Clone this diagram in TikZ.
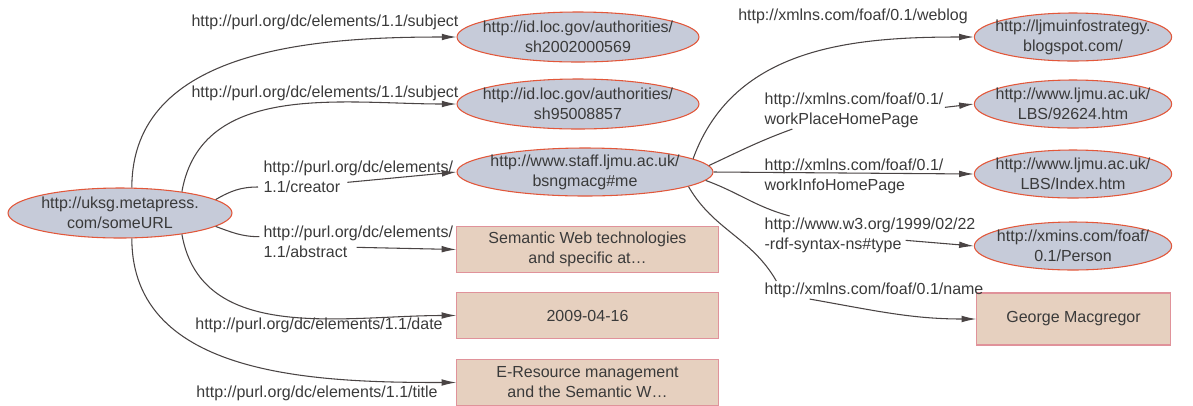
\documentclass[tikz,border=0pt]{standalone}
\usepackage{fontspec}
\setmainfont{Liberation Sans}
\usetikzlibrary{shapes.geometric,arrows.meta}
\definecolor{txt}{HTML}{3A3A3A}
\definecolor{ellfill}{HTML}{C6CBD9}
\definecolor{ellline}{HTML}{E2573A}
\definecolor{boxfill}{HTML}{E6D0BF}
\definecolor{boxline}{HTML}{E0929A}
\definecolor{edgecol}{HTML}{4A4444}
\begin{document}
\begin{tikzpicture}[x=0.75pt,y=-0.75pt,
  every node/.style={text=txt,font=\fontsize{12}{15}\selectfont},
  res/.style={ellipse,draw=ellline,fill=ellfill,line width=0.8pt,align=center,
    inner xsep=-8pt,inner ysep=-3pt,minimum width=148pt,minimum height=36pt},
  lit/.style={rectangle,draw=boxline,fill=boxfill,line width=0.8pt,align=center,
    minimum width=196pt,minimum height=34pt},
  prop/.style={align=left,inner sep=1pt},
  link/.style={draw=edgecol,line width=0.8pt},
  arr/.style={link,-{Latex[length=11pt,width=5pt]}}]
  \useasboundingbox (0,0) rectangle (1193,405);

  \node[res,minimum width=168pt,minimum height=37.5pt] (root) at (120,213)
    {http://uksg.metapress.\\com/someURL};
  \node[res,minimum width=181.5pt,minimum height=37.5pt] (subj1) at (578,37)
    {http://id.loc.gov/authorities/\\sh2002000569};
  \node[res,minimum width=181.5pt,minimum height=37.5pt] (subj2) at (578,104)
    {http://id.loc.gov/authorities/\\sh95008857};
  \node[res,minimum width=192pt] (creator) at (585,172)
    {http://www.staff.ljmu.ac.uk/\\bsngmacg\#me};
  \node[lit] (abstract) at (587.5,249.5) {Semantic Web technologies\\and specific at\dots};
  \node[lit] (date) at (587.5,315.5) {2009-04-16};
  \node[lit] (title) at (587.5,382.5) {E-Resource management\\and the Semantic W\dots};

  \node[res] (weblog) at (1073,37) {http://ljmuinfostrategy.\\blogspot.com/};
  \node[res] (workplace) at (1073,104) {http://www.ljmu.ac.uk/\\LBS/92624.htm};
  \node[res] (workinfo) at (1073,174) {http://www.ljmu.ac.uk/\\LBS/Index.htm};
  \node[res] (person) at (1073,246) {http://xmins.com/foaf/\\0.1/Person};
  \node[lit,minimum width=145pt,minimum height=39pt] (name) at (1073.5,319) {George Macgregor};

  \node[prop] (lsubj1) at (325,22) {http://purl.org/dc/elements/1.1/subject};
  \node[prop] (lsubj2) at (325,93) {http://purl.org/dc/elements/1.1/subject};
  \node[prop,anchor=west] (lcreator) at (262,177) {http://purl.org/dc/elements/\\1.1/creator};
  \node[prop,anchor=west] (labstract) at (262,242) {http://purl.org/dc/elements/\\1.1/abstract};
  \node[prop] (ldate) at (319,325) {http://purl.org/dc/elements/1.1/date};
  \node[prop] (ltitle) at (317,393) {http://purl.org/dc/elements/1.1/title};
  \node[prop] (lweblog) at (853,16) {http://xmlns.com/foaf/0.1/weblog};
  \node[prop,anchor=west] (lworkplace) at (763,110) {http://xmlns.com/foaf/0.1/\\workPlaceHomePage};
  \node[prop,anchor=west] (lworkinfo) at (763,176) {http://xmlns.com/foaf/0.1/\\workInfoHomePage};
  \node[prop,anchor=west] (ltype) at (763,235) {http://www.w3.org/1999/02/22\\-rdf-syntax-ns\#type};
  \node[prop,anchor=west] (lname) at (763,290) {http://xmlns.com/foaf/0.1/name};

  \draw[arr] (root.65) to[out=90,in=180] (subj1.west);
  \draw[arr] (root.19) to[out=80,in=180] (subj2.west);
  \draw[link] (root.8) to[out=30,in=180] ([xshift=-3pt,yshift=-7.5pt]lcreator.west);
  \draw[arr] ([xshift=64pt,yshift=-4pt]lcreator.west) -- (creator.west);
  \draw[link] (root.-8) to[out=-20,in=180] ([xshift=-2pt,yshift=4pt]labstract.west);
  \draw[arr] ([xshift=71pt,yshift=-4pt]labstract.west) -- (abstract.west);
  \draw[arr] (root.-19) to[out=-80,in=180] (date.west);
  \draw[arr] (root.-65) to[out=-90,in=180] (title.west);

  \draw[arr] (creator.7) to[out=70,in=180] (weblog.west);
  \draw[link] (creator.3) to[out=25,in=200] ([xshift=22pt]lworkplace.south west);
  \draw[arr] ([yshift=2pt]lworkplace.east) -- (workplace.west);
  \draw[arr] (creator.east) -- (workinfo.west);
  \draw[link] (creator.-4) to[out=-20,in=165] ([xshift=20pt]ltype.north west);
  \draw[arr] ([xshift=107pt,yshift=-4pt]ltype.west) -- (person.west);
  \draw[link] (creator.-8) to[out=-60,in=120] ([xshift=10pt]lname.north west);
  \draw[arr] ([xshift=35pt]lname.south west) to[out=-10,in=180] (name.west);
\end{tikzpicture}
\end{document}
